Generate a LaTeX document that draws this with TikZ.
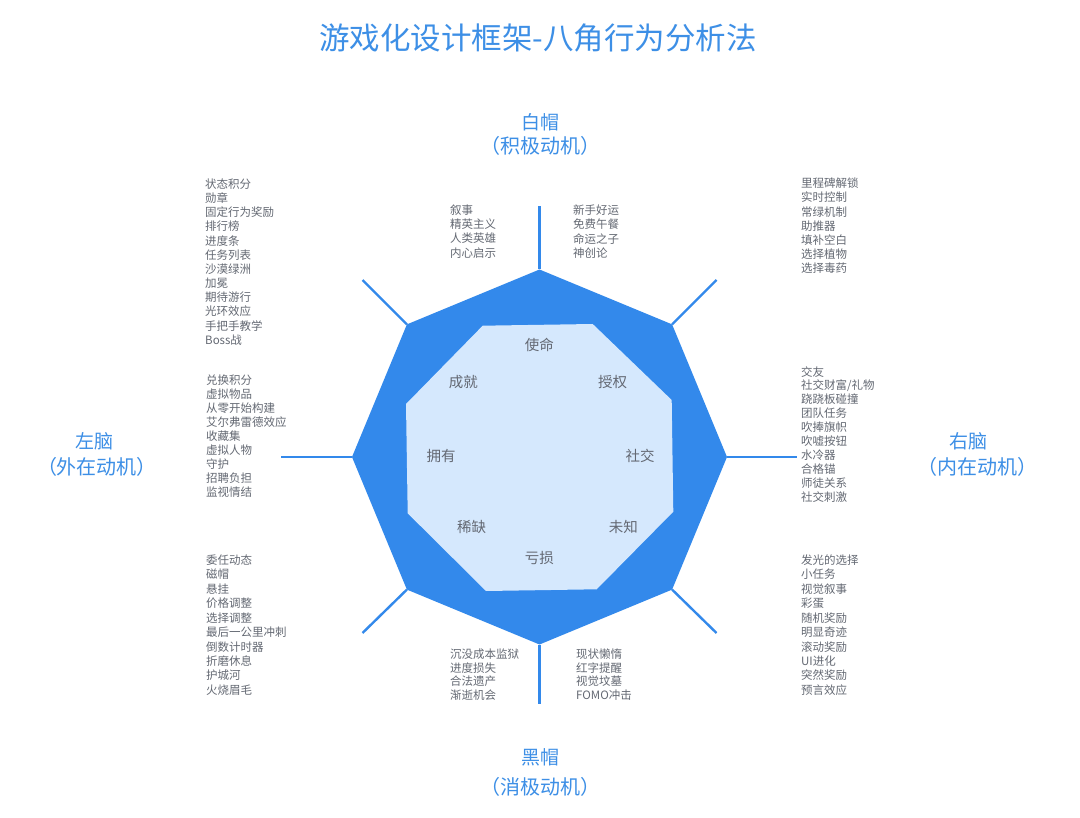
\documentclass[tikz,border=0pt]{standalone}
\usepackage{fontspec}
\setmainfont{Noto Sans CJK SC}
\definecolor{octblue}{HTML}{3389EB}
\definecolor{octlight}{HTML}{D5E8FD}
\definecolor{titleblue}{HTML}{3D8FE6}
\definecolor{txtgray}{HTML}{646973}
\tikzset{
  listitem/.style={anchor=west,inner sep=0pt,text=txtgray,font=\fontsize{11.5}{13}\selectfont},
  corelabel/.style={inner sep=0pt,text=txtgray,font=\fontsize{14.5}{16}\selectfont},
  sidelabel/.style={inner sep=0pt,text=titleblue,font=\fontsize{19}{21}\selectfont},
  sidesub/.style={inner sep=0pt,text=titleblue,font=\fontsize{20}{22}\selectfont},
  spoke/.style={draw=octblue,line width=2.4pt},
}
\newcommand{\mklist}[5]{% name, x, y0, spacing, items
  \foreach \t [count=\i from 0] in {#5}{
    \node[listitem] (#1-\i) at (#2,{#3+\i*#4}) {\t};
  }
}
\begin{document}
\begin{tikzpicture}[x=1pt,y=-1pt]
\useasboundingbox (0,0) rectangle (1080,818);
\fill[white] (0,0) rectangle (1080,818);

% title
\node[inner sep=0pt,text=titleblue,font=\fontsize{30.5}{33}\selectfont] (title) at (538,38) {游戏化设计框架-八角行为分析法};

% outer octagon vertices
\coordinate (oT)  at (539.5,269.5);
\coordinate (oTR) at (672.1,324.4);
\coordinate (oR)  at (727,457);
\coordinate (oBR) at (672.1,589.6);
\coordinate (oB)  at (539.5,644.5);
\coordinate (oBL) at (406.9,589.6);
\coordinate (oL)  at (352,457);
\coordinate (oTL) at (406.9,324.4);
% spoke ends
\coordinate (sT)  at (539.5,206);
\coordinate (sB)  at (539.5,704);
\coordinate (sL)  at (281,457);
\coordinate (sR)  at (797,457);
\coordinate (sTL) at (362.5,280);
\coordinate (sTR) at (716.5,280);
\coordinate (sBR) at (716.5,633);
\coordinate (sBL) at (362.5,633);

\foreach \a in {T,TR,R,BR,B,BL,L,TL}{
  \draw[spoke] (o\a) -- (s\a);
}
\fill[octblue] (oT) -- (oTR) -- (oR) -- (oBR) -- (oB) -- (oBL) -- (oL) -- (oTL) -- cycle;

% inner octagon
\coordinate (i1) at (482.7,325.7);
\coordinate (i2) at (592.7,324);
\coordinate (i3) at (671.7,400);
\coordinate (i4) at (673.3,511.7);
\coordinate (i5) at (596.7,589.3);
\coordinate (i6) at (486,591);
\coordinate (i7) at (407.7,513.3);
\coordinate (i8) at (406,404);
\fill[octlight] (i1) -- (i2) -- (i3) -- (i4) -- (i5) -- (i6) -- (i7) -- (i8) -- cycle;

% core labels
\node[corelabel] (c1) at (539.3,345) {使命};
\node[corelabel] (c2) at (612.7,381.7) {授权};
\node[corelabel] (c3) at (640,456) {社交};
\node[corelabel] (c4) at (623.3,526.7) {未知};
\node[corelabel] (c5) at (539.3,558.3) {亏损};
\node[corelabel] (c6) at (471.7,526.7) {稀缺};
\node[corelabel] (c7) at (441,456) {拥有};
\node[corelabel] (c8) at (463.3,382.3) {成就};

% side labels
\node[sidelabel] (wh1) at (540,122) {白帽};
\node[sidesub] (wh2) at (540,146) {（积极动机）};
\node[sidelabel] (bh1) at (540,757) {黑帽};
\node[sidesub] (bh2) at (540,787) {（消极动机）};
\node[sidelabel] (lb1) at (94,441) {左脑};
\node[sidesub] (lb2) at (97,467) {（外在动机）};
\node[sidelabel] (rb1) at (968,441) {右脑};
\node[sidesub] (rb2) at (977,467) {（内在动机）};

% lists
\mklist{tl}{205}{184}{14.18}{状态积分,勋章,固定行为奖励,排行榜,进度条,任务列表,沙漠绿洲,加冕,期待游行,光环效应,手把手教学,Boss战}
\mklist{tml}{450}{210}{14.3}{叙事,精英主义,人类英雄,内心启示}
\mklist{tmr}{573}{210}{14.3}{新手好运,免费午餐,命运之子,神创论}
\mklist{tr}{801}{183.3}{14.17}{里程碑解锁,实时控制,常绿机制,助推器,填补空白,选择植物,选择毒药}
\mklist{ml}{206}{380}{13.96}{兑换积分,虚拟物品,从零开始构建,艾尔弗雷德效应,收藏集,虚拟人物,守护,招聘负担,监视情结}
\mklist{mr}{801}{371.7}{13.9}{交友,社交财富/礼物,跷跷板碰撞,团队任务,吹捧旗帜,吹嘘按钮,水冷器,合格锚,师徒关系,社交刺激}
\mklist{bl}{206}{560}{14.44}{委任动态,磁帽,悬挂,价格调整,选择调整,最后一公里冲刺,倒数计时器,折磨休息,护城河,火烧眉毛}
\mklist{bml}{450}{654}{13.7}{沉没成本监狱,进度损失,合法遗产,渐逝机会}
\mklist{bmr}{576}{654}{13.7}{现状懒惰,红字提醒,视觉坟墓,FOMO冲击}
\mklist{br}{801}{560}{14.44}{发光的选择,小任务,视觉叙事,彩蛋,随机奖励,明显奇迹,滚动奖励,UI进化,突然奖励,预言效应}
\end{tikzpicture}
\end{document}
